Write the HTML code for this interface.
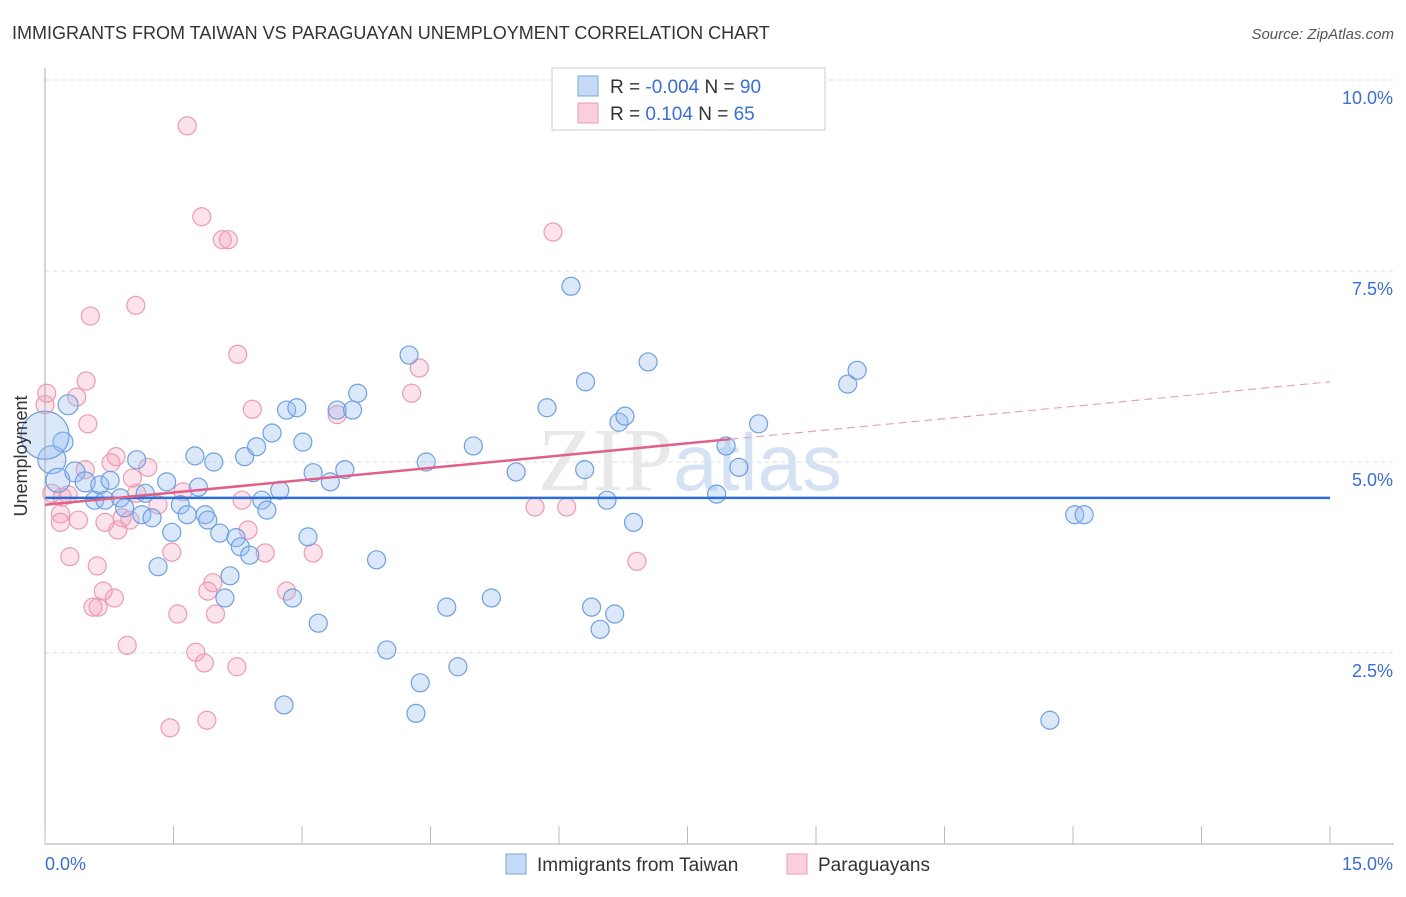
<!DOCTYPE html>
<html><head><meta charset="utf-8"><style>
body{margin:0;background:#fff;font-family:"Liberation Sans",sans-serif}
</style></head><body>
<svg width="1406" height="892" viewBox="0 0 1406 892" style="font-family:'Liberation Sans',sans-serif">
<text x="12" y="39" font-size="18" fill="#333">IMMIGRANTS FROM TAIWAN VS PARAGUAYAN UNEMPLOYMENT CORRELATION CHART</text>
<text x="1394" y="39" font-size="15" fill="#555" text-anchor="end" font-style="italic">Source: ZipAtlas.com</text>
<g id="grid"></g>
<text x="690" y="490" font-size="90" fill="#e8e8e8" text-anchor="middle" font-family="Liberation Serif">ZIP<tspan fill="#d4e2f4" font-family="Liberation Sans" font-size="80">atlas</tspan></text>
<g id="pts"></g>
<g id="trend"></g>
<g id="axes"></g>
<text x="27" y="456" font-size="18" fill="#333" text-anchor="middle" transform="rotate(-90 27 456)">Unemployment</text>
<g>
<rect x="552" y="68" width="273" height="62" fill="#fff" stroke="#ccc"/>
<rect x="578" y="76" width="20" height="20" fill="#c5daf5" stroke="#7aa6e3"/>
<rect x="578" y="103" width="20" height="20" fill="#fbd0dc" stroke="#eb9bb2"/>
<text x="610" y="93" font-size="19" fill="#333">R = <tspan fill="#3a6fd0">-0.004</tspan>   N = <tspan fill="#3a6fd0">90</tspan></text>
<text x="610" y="120" font-size="19" fill="#333">R =    <tspan fill="#3a6fd0">0.104</tspan>   N = <tspan fill="#3a6fd0">65</tspan></text>
</g>
<g>
<rect x="506" y="854" width="20" height="20" fill="#c5daf5" stroke="#7aa6e3"/>
<text x="537" y="871" font-size="19" fill="#333">Immigrants from Taiwan</text>
<rect x="787" y="854" width="20" height="20" fill="#fbd0dc" stroke="#eb9bb2"/>
<text x="818" y="871" font-size="19" fill="#333">Paraguayans</text>
</g>
</svg>
<script>
const yTicks=[2.5,5.0,7.5,10.0];
const yTickLabels=["2.5%","5.0%","7.5%","10.0%"];
const xTickLabels=["0.0%","15.0%"];
const blueX=[0.27,0.21,0.08,0,0.15,0.35,0.47,0.58,0.64,0.76,0.70,0.88,0.93,1.07,1.17,1.13,1.25,1.32,1.48,1.42,1.58,1.66,1.79,1.75,1.87,1.90,1.97,2.04,2.10,2.16,2.23,2.28,2.33,2.39,2.47,2.53,2.59,2.65,2.74,2.79,2.82,2.89,2.94,3.01,3.07,3.13,3.19,3.33,3.41,3.50,3.59,3.65,3.87,3.99,4.25,4.38,4.33,4.45,4.69,4.82,5.00,5.21,5.50,5.86,6.14,6.30,6.31,6.38,6.48,6.56,6.65,6.70,6.77,6.87,7.04,7.84,7.95,8.10,8.33,9.37,9.48,11.73,12.02,12.13];
const blueY=[5.75,5.26,5.03,5.35,4.76,4.87,4.74,4.50,4.70,4.76,4.50,4.53,4.40,5.03,4.59,4.31,4.27,3.63,4.08,4.74,4.44,4.31,4.67,5.08,4.31,4.24,5.00,4.07,3.22,3.51,4.01,3.89,5.07,3.78,5.20,4.50,4.37,5.38,4.63,1.82,5.68,3.22,5.71,5.26,4.02,4.86,2.89,4.74,5.68,4.90,5.68,5.90,3.72,2.54,6.40,2.11,1.71,5.00,3.10,2.32,5.21,3.22,4.87,5.71,7.30,4.90,6.05,3.10,2.81,4.50,3.01,5.52,5.60,4.21,6.31,4.58,5.21,4.93,5.50,6.02,6.20,1.62,4.31,4.31];
const blueR=[10,10,14,24,12,10,10,9,9,9,9,9,9,9,9,9,9,9,9,9,9,9,9,9,9,9,9,9,9,9,9,9,9,9,9,9,9,9,9,9,9,9,9,9,9,9,9,9,9,9,9,9,9,9,9,9,9,9,9,9,9,9,9,9,9,9,9,9,9,9,9,9,9,9,9,9,9,9,9,9,9,9,9,9];
const pinkX=[1.66,1.83,2.07,2.14,5.93,1.06,0.53,2.25,4.37,0.48,0.02,0,0.37,4.28,2.42,3.41,0.50,0.83,1.20,0.77,0.47,1.02,0.08,0.27,0.20,1.07,1.61,1.32,2.30,0.18,0.18,0.39,0.70,0.90,0.99,0.85,2.37,5.72,6.09,0.29,1.48,2.57,3.13,0.61,6.91,1.96,1.90,2.82,0.68,0.81,0.56,0.62,1.55,1.99,0.96,1.76,1.86,2.24,1.89,1.46];
const pinkY=[9.40,8.21,7.91,7.91,8.01,7.05,6.91,6.41,6.23,6.06,5.90,5.75,5.85,5.90,5.69,5.62,5.50,5.07,4.93,4.99,4.90,4.79,4.59,4.57,4.54,4.59,4.61,4.44,4.50,4.32,4.21,4.24,4.21,4.27,4.24,4.11,4.11,4.41,4.41,3.76,3.82,3.81,3.81,3.64,3.70,3.42,3.31,3.31,3.31,3.22,3.10,3.10,3.01,3.01,2.60,2.51,2.37,2.32,1.62,1.52];
const blueTrend=[4.53,4.53];
const pinkTrend=[4.44,6.05];
const pinkSolidEnd=8.0;
const X0=45,X1=1330,Y0=844,PPU=76.4;
const sx=v=>X0+v/15*(X1-X0), sy=v=>Y0-v*PPU;
const NS="http://www.w3.org/2000/svg";
function mk(t,a,p){const e=document.createElementNS(NS,t);for(const k in a)e.setAttribute(k,a[k]);p.appendChild(e);return e;}
const grid=document.getElementById('grid'),axes=document.getElementById('axes'),pts=document.getElementById('pts'),tr=document.getElementById('trend');
yTicks.forEach((t,i)=>{
 const l=mk('line',{x1:X0,x2:1394,y1:sy(t),y2:sy(t),stroke:'#ddd','stroke-dasharray':'4,4'},grid);
 
 
 const tx=mk('text',{x:1393,y:sy(t)+24,'font-size':18,fill:'#3a6fd0','text-anchor':'end'},axes);
 tx.textContent=yTickLabels[i];
 
 
});
mk('line',{x1:X0,x2:X0,y1:68,y2:Y0,stroke:'#aaa'},axes);
mk('line',{x1:X0,x2:1394,y1:Y0,y2:Y0,stroke:'#aaa'},axes);
for(let i=0;i<=10;i++){const x=sx(i*1.5);mk('line',{x1:x,x2:x,y1:Y0,y2:Y0-18,stroke:'#bbb'},axes);}
xTickLabels.forEach((s,i)=>{const tx=mk('text',{x:i?1393:45,y:870,'font-size':18,fill:'#3a6fd0','text-anchor':i?'end':'start'},axes);tx.textContent=s;
 
 });
pinkX.forEach((x,i)=>{const c=mk('circle',{cx:sx(x),cy:sy(pinkY[i]),r:9,fill:'rgba(245,160,185,0.3)',stroke:'#eb9bb2','stroke-width':1.2},pts);
 
 });
blueX.forEach((x,i)=>{const c=mk('circle',{cx:sx(x),cy:sy(blueY[i]),r:blueR[i],fill:'rgba(150,190,240,0.35)',stroke:'#6f9fe0','stroke-width':1.2},pts);
 
 });
const b=mk('line',{x1:sx(0),x2:sx(15),y1:sy(blueTrend[0]),y2:sy(blueTrend[1]),stroke:'#2b6fd6','stroke-width':2.5},tr);


const pm=pinkTrend[0]+(pinkTrend[1]-pinkTrend[0])*pinkSolidEnd/15;
const p1=mk('line',{x1:sx(0),x2:sx(pinkSolidEnd),y1:sy(pinkTrend[0]),y2:sy(pm),stroke:'#e0608a','stroke-width':2.5},tr);


const p2=mk('line',{x1:sx(pinkSolidEnd),x2:sx(15),y1:sy(pm),y2:sy(pinkTrend[1]),stroke:'#e9a0b8','stroke-width':1.2,'stroke-dasharray':'8,5'},tr);


</script>
</body></html>
